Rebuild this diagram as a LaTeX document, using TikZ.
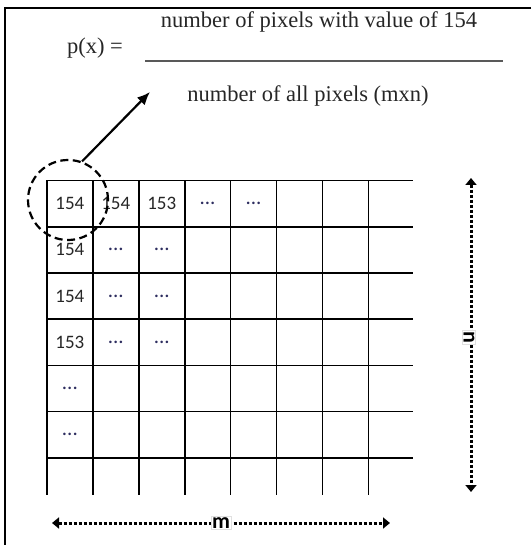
\documentclass[tikz,border=0pt]{standalone}
\usepackage{fontspec}
\setmainfont{Liberation Serif}
\newfontfamily\cellfont{Carlito}
\usetikzlibrary{arrows.meta}
\definecolor{dotcol}{RGB}{45,45,95}
\newcommand{\celldots}{{\fontsize{21}{22}\selectfont\textcolor{dotcol}{...}}}

\begin{document}
\begin{tikzpicture}[x=1pt,y=-1pt,
  formula/.style={font=\fontsize{22.5}{26}\selectfont,text=black!85},
  cell/.style={font=\cellfont\fontsize{19}{22}\selectfont,text=black!85},
  gridline/.style={line width=1.6pt},
  dimline/.style={line width=3pt,dash pattern=on 3pt off 2pt,
    {Triangle[width=11pt,length=7pt]}-{Triangle[width=11pt,length=7pt]}},
  dimlabel/.style={font=\cellfont\bfseries\fontsize{22}{24}\selectfont,draw=black!12,fill=white,inner sep=1pt}]
\useasboundingbox (0,0) rectangle (531,545);
\draw[line width=2.6pt] (531,8) -- (5,8) -- (5,545);
% formula
\node[formula] (px) at (95,48) {p(x) =};
\draw[line width=2pt,black!65] (145,61) -- (503,61);
\node[formula] (num) at (319,22) {number of pixels with value of 154};
\node[formula] (den) at (308,96) {number of all pixels (mxn)};
% grid
\foreach \i in {0,...,6}
  \draw[gridline] (47,180.5+46.2*\i) -- (413,180.5+46.2*\i);
\foreach \j in {0,...,7}
  \draw[gridline] (47+45.9*\j,180.5) -- (47+45.9*\j,495);
\foreach \r/\c/\v in {1/1/154,1/2/154,1/3/153,1/4/\celldots,1/5/\celldots,
    2/1/154,2/2/\celldots,2/3/\celldots,3/1/154,3/2/\celldots,3/3/\celldots,
    4/1/153,4/2/\celldots,4/3/\celldots,5/1/\celldots,6/1/\celldots}
  \node[cell] (c\r\c) at (24+45.9*\c,157.4+46.2*\r) {\v};
% selected pixel
\node[draw,circle,minimum size=80pt,line width=2.2pt,dash pattern=on 8pt off 4.5pt] (sel) at (68,200) {};
\coordinate (tip) at (150,92);
\draw[line width=2.2pt,-{Latex[length=13pt,width=11pt]}] (sel.70) -- (tip);
% dimensions
\coordinate (ntop) at (471,178);
\coordinate (nbot) at (471,492);
\draw[dimline] (ntop) -- (nbot);
\node[dimlabel,rotate=-90] (n) at (469,337) {n};
\coordinate (mleft) at (52,523);
\coordinate (mright) at (390,523);
\draw[dimline] (mleft) -- (mright);
\node[dimlabel] (m) at (221,523) {m};
\end{tikzpicture}
\end{document}
